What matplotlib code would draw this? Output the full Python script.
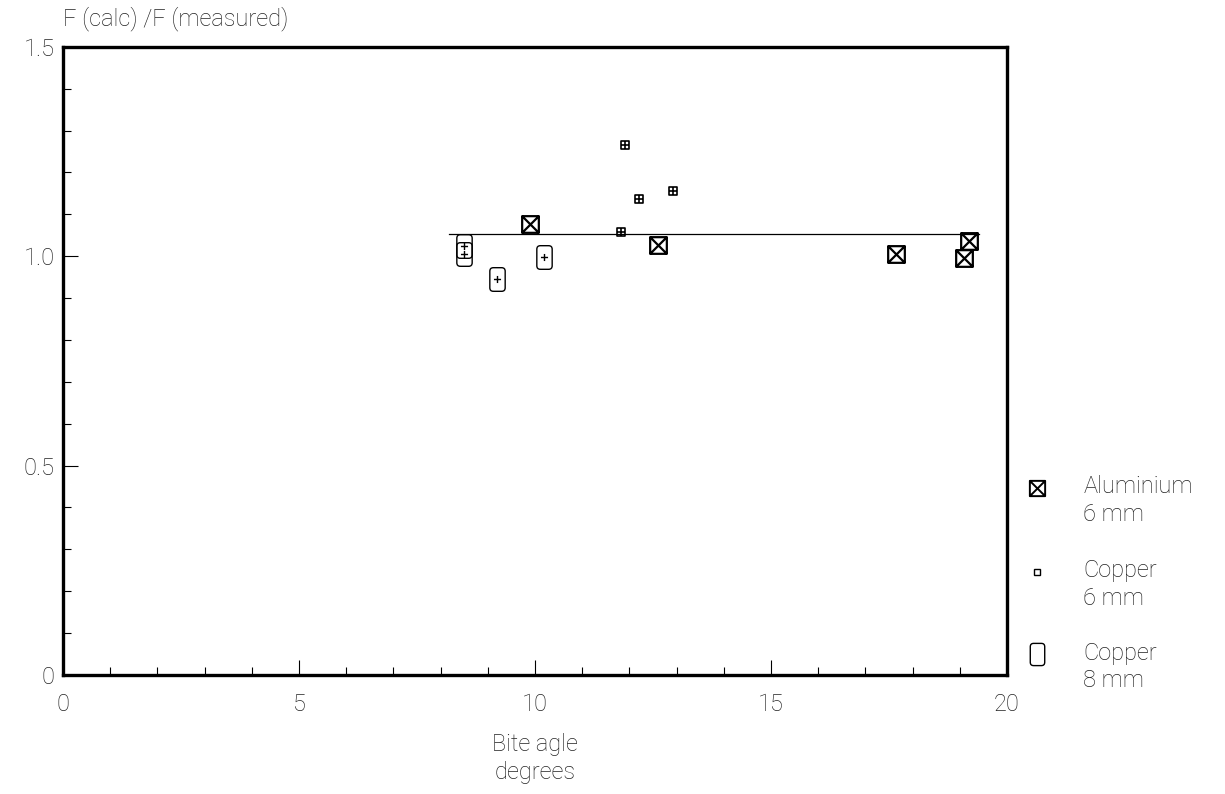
import matplotlib
matplotlib.use("Agg")
import matplotlib.pyplot as plt
from matplotlib.path import Path
import numpy as np

# data
alu6_x = [9.9, 12.6, 17.65, 19.1, 19.2]
alu6_y = [1.077, 1.027, 1.005, 0.996, 1.037]

cu6_x = [11.9, 12.2, 12.92, 11.82]
cu6_y = [1.266, 1.137, 1.156, 1.058]

cu8_x = [8.5, 8.5, 9.2, 10.2]
cu8_y = [1.025, 1.005, 0.946, 0.998]

mean_x = [8.18, 19.4]
mean_y = [1.053, 1.053]

xticks = [0, 5, 10, 15, 20]
yticks = [0, 0.5, 1.0, 1.5]
ytick_labels = ["0", "0.5", "1.0", "1.5"]

# marker shapes
box_x = Path([(-1, -1), (1, -1), (1, 1), (-1, 1), (-1, -1),
              (-1, -1), (1, 1), (-1, 1), (1, -1)],
             [Path.MOVETO, Path.LINETO, Path.LINETO, Path.LINETO, Path.CLOSEPOLY,
              Path.MOVETO, Path.LINETO, Path.MOVETO, Path.LINETO])
box_plus = Path([(-1, -1), (1, -1), (1, 1), (-1, 1), (-1, -1),
                 (0, -1), (0, 1), (-1, 0), (1, 0)],
                [Path.MOVETO, Path.LINETO, Path.LINETO, Path.LINETO, Path.CLOSEPOLY,
                 Path.MOVETO, Path.LINETO, Path.MOVETO, Path.LINETO])
# rounded tall rectangle with a small plus
w, h, r = 0.65, 1.0, 0.3
rr_verts = [(-w + r, -h), (w - r, -h), (w, -h), (w, -h + r), (w, h - r), (w, h), (w - r, h),
            (-w + r, h), (-w, h), (-w, h - r), (-w, -h + r), (-w, -h), (-w + r, -h),
            (0, -0.3), (0, 0.3), (-0.3, 0), (0.3, 0)]
rr_codes = [Path.MOVETO, Path.LINETO, Path.CURVE3, Path.CURVE3, Path.LINETO, Path.CURVE3, Path.CURVE3,
            Path.LINETO, Path.CURVE3, Path.CURVE3, Path.LINETO, Path.CURVE3, Path.CURVE3,
            Path.MOVETO, Path.LINETO, Path.MOVETO, Path.LINETO]
round_plus = Path(rr_verts, rr_codes)
round_box = Path(rr_verts[:13], rr_codes[:13])

plt.rcParams['font.family'] = ['Roboto', 'DejaVu Sans']
plt.rcParams['font.weight'] = 'light'
plt.rcParams['axes.labelweight'] = 'light'
txt_col = '#222222'

fig = plt.figure(figsize=(12.25, 7.94), dpi=100)
ax = fig.add_axes([0.0514, 0.15, 0.7706, 0.791])

ax.plot(mean_x, mean_y, color='black', lw=0.9)
ax.plot(alu6_x, alu6_y, ls='none', marker=box_x, ms=12, mfc='none', mec='black', mew=1.6)
ax.plot(cu6_x, cu6_y, ls='none', marker=box_plus, ms=6, mfc='none', mec='black', mew=1.2)
ax.plot(cu8_x, cu8_y, ls='none', marker=round_plus, ms=17, mfc='none', mec='black', mew=1.0)

ax.set_xlim(0, 20)
ax.set_ylim(0, 1.5)
ax.set_xticks(xticks)
ax.set_xticks(np.arange(0, 21, 1), minor=True)
ax.set_yticks(yticks)
ax.set_yticklabels(ytick_labels)
ax.set_yticks(np.arange(0, 1.51, 0.1), minor=True)
ax.tick_params(axis='both', which='both', direction='in', top=False, right=False,
               labelsize=17, labelcolor=txt_col, width=0.8)
ax.tick_params(axis='x', which='major', length=11, pad=13)
ax.tick_params(axis='x', which='minor', length=6)
ax.tick_params(axis='y', which='major', length=11, pad=6)
ax.tick_params(axis='y', which='minor', length=6)
for s in ax.spines.values():
    s.set_linewidth(2.4)

ax.text(0.0, 1.025, "F (calc) /F (measured)", transform=ax.transAxes,
        fontsize=17, color=txt_col, ha='left', va='bottom')
ax.set_xlabel("Bite agle\ndegrees", fontsize=17, color=txt_col, labelpad=12,
              linespacing=1.3, fontweight='light')

# legend outside on the right
leg_entries = [("Aluminium\n6 mm", box_x, 11, 1.4),
               ("Copper\n6 mm", 's', 5, 1.0),
               ("Copper\n8 mm", round_box, 16, 1.0)]
leg_y = [0.298, 0.164, 0.033]
for (lab, mk, ms, mw), yy in zip(leg_entries, leg_y):
    ax.plot([1.032], [yy], transform=ax.transAxes, clip_on=False, ls='none',
            marker=mk, ms=ms, mfc='none', mec='black', mew=mw)
    ax.text(1.081, yy + 0.02, lab, transform=ax.transAxes, fontsize=17,
            color=txt_col, ha='left', va='top', linespacing=1.25)

fig.savefig("out.png", dpi=100)
